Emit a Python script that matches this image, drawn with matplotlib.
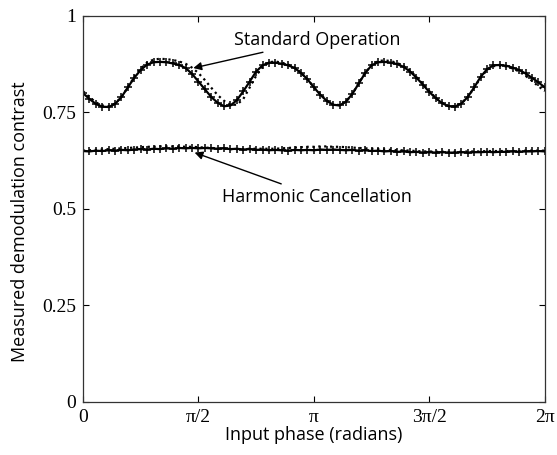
import numpy as np
import matplotlib
matplotlib.use("Agg")
import matplotlib.pyplot as plt

# input phase in degrees, 5 degree steps over one full turn
phase_deg = np.arange(0, 361, 5)

# standard operation: measured contrast
standard_meas = [
    0.800, 0.785, 0.772, 0.765, 0.764, 0.772, 0.790, 0.815, 0.840, 0.860,
    0.874, 0.880, 0.881, 0.880, 0.877, 0.873, 0.865, 0.850, 0.830, 0.810,
    0.790, 0.775, 0.766, 0.768, 0.782, 0.805, 0.830, 0.856, 0.872, 0.879,
    0.879, 0.876, 0.872, 0.865, 0.852, 0.836, 0.815, 0.796, 0.780, 0.770,
    0.768, 0.778, 0.798, 0.825, 0.852, 0.872, 0.880, 0.881, 0.879, 0.875,
    0.868, 0.856, 0.840, 0.822, 0.803, 0.787, 0.774, 0.766, 0.765, 0.773,
    0.790, 0.815, 0.842, 0.862, 0.872, 0.873, 0.871, 0.866, 0.860, 0.851,
    0.840, 0.828, 0.815,
]

# standard operation: model
standard_model = [
    0.805, 0.790, 0.776, 0.768, 0.766, 0.773, 0.790, 0.815, 0.842, 0.864,
    0.879, 0.887, 0.889, 0.888, 0.886, 0.882, 0.876, 0.866, 0.852, 0.834,
    0.814, 0.795, 0.780, 0.770, 0.770, 0.785, 0.815, 0.845, 0.868, 0.880,
    0.882, 0.879, 0.874, 0.866, 0.853, 0.836, 0.816, 0.797, 0.781, 0.771,
    0.769, 0.778, 0.798, 0.826, 0.853, 0.873, 0.883, 0.885, 0.883, 0.878,
    0.870, 0.858, 0.842, 0.824, 0.805, 0.788, 0.775, 0.767, 0.766, 0.774,
    0.790, 0.814, 0.840, 0.860, 0.870, 0.871, 0.869, 0.864, 0.856, 0.845,
    0.832, 0.818, 0.805,
]

# harmonic cancellation: measured contrast
harmonic_meas = [
    0.650, 0.649, 0.651, 0.650, 0.652, 0.651, 0.653, 0.652, 0.654, 0.655,
    0.654, 0.656, 0.655, 0.657, 0.656, 0.658, 0.657, 0.658, 0.657, 0.658,
    0.657, 0.656, 0.657, 0.655, 0.656, 0.654, 0.655, 0.653, 0.654, 0.652,
    0.653, 0.652, 0.651, 0.653, 0.652, 0.653, 0.652, 0.654, 0.653, 0.654,
    0.653, 0.652, 0.653, 0.651, 0.652, 0.650, 0.651, 0.649, 0.650, 0.648,
    0.649, 0.647, 0.648, 0.646, 0.647, 0.646, 0.647, 0.646, 0.646, 0.647,
    0.646, 0.647, 0.647, 0.648, 0.647, 0.648, 0.648, 0.649, 0.648, 0.649,
    0.649, 0.650, 0.649,
]

# harmonic cancellation: model
harmonic_model = [
    0.651, 0.652, 0.653, 0.654, 0.655, 0.656, 0.657, 0.658, 0.659, 0.660,
    0.661, 0.661, 0.662, 0.662, 0.662, 0.662, 0.661, 0.661, 0.660, 0.659,
    0.658, 0.657, 0.656, 0.655, 0.655, 0.655, 0.656, 0.656, 0.656, 0.656,
    0.656, 0.657, 0.658, 0.659, 0.660, 0.661, 0.661, 0.662, 0.662, 0.661,
    0.661, 0.660, 0.659, 0.658, 0.657, 0.656, 0.655, 0.654, 0.653, 0.652,
    0.652, 0.651, 0.650, 0.649, 0.649, 0.648, 0.648, 0.648, 0.648, 0.648,
    0.649, 0.649, 0.649, 0.650, 0.650, 0.650, 0.650, 0.650, 0.650, 0.651,
    0.651, 0.651, 0.651,
]

x_ticks = [0, np.pi / 2, np.pi, 3 * np.pi / 2, 2 * np.pi]
x_ticklabels = ["0", "\u03c0/2", "\u03c0", "3\u03c0/2", "2\u03c0"]
y_ticks = [0, 0.25, 0.5, 0.75, 1]
y_ticklabels = ["0", "0.25", "0.5", "0.75", "1"]

phase = np.deg2rad(phase_deg)

fig = plt.figure(figsize=(5.57, 4.55), dpi=100)
ax = fig.add_axes([0.149, 0.1165, 0.829, 0.8485])

for meas, model in [(standard_meas, standard_model), (harmonic_meas, harmonic_model)]:
    ax.plot(phase, model, ls=":", color="black", lw=1.6)
    ax.plot(phase, meas, ls="-", color="black", lw=1.6,
            marker="+", ms=6, mew=1.1)

ax.set_xlim(0, 2 * np.pi)
ax.set_ylim(0, 1)
ax.set_xticks(x_ticks)
ax.set_xticklabels(x_ticklabels, family="Liberation Serif", fontsize=14)
ax.set_yticks(y_ticks)
ax.set_yticklabels(y_ticklabels, family="Liberation Serif", fontsize=14)
ax.tick_params(direction="in", length=4, width=0.8, top=True, right=True, pad=5)
for s in ax.spines.values():
    s.set_linewidth(0.9)
    s.set_color("#333333")

label_font = dict(family="Open Sans", fontsize=13)
ax.set_xlabel("Input phase (radians)", labelpad=0, **label_font)
ax.set_ylabel("Measured demodulation contrast", **label_font)
ax.yaxis.set_label_coords(-0.118, 0.466)

ax.annotate("Standard Operation", xy=(np.deg2rad(86), 0.865),
            xytext=(np.deg2rad(118), 0.938), va="center", ha="left",
            arrowprops=dict(arrowstyle="-|>", color="black", lw=1.0,
                            mutation_scale=12, shrinkA=2, shrinkB=0),
            **label_font)
ax.annotate("Harmonic Cancellation", xy=(np.deg2rad(87), 0.646),
            xytext=(np.deg2rad(108), 0.532), va="center", ha="left",
            arrowprops=dict(arrowstyle="-|>", color="black", lw=1.0,
                            mutation_scale=12, shrinkA=2, shrinkB=0),
            **label_font)

fig.savefig("out.png", dpi=100)
